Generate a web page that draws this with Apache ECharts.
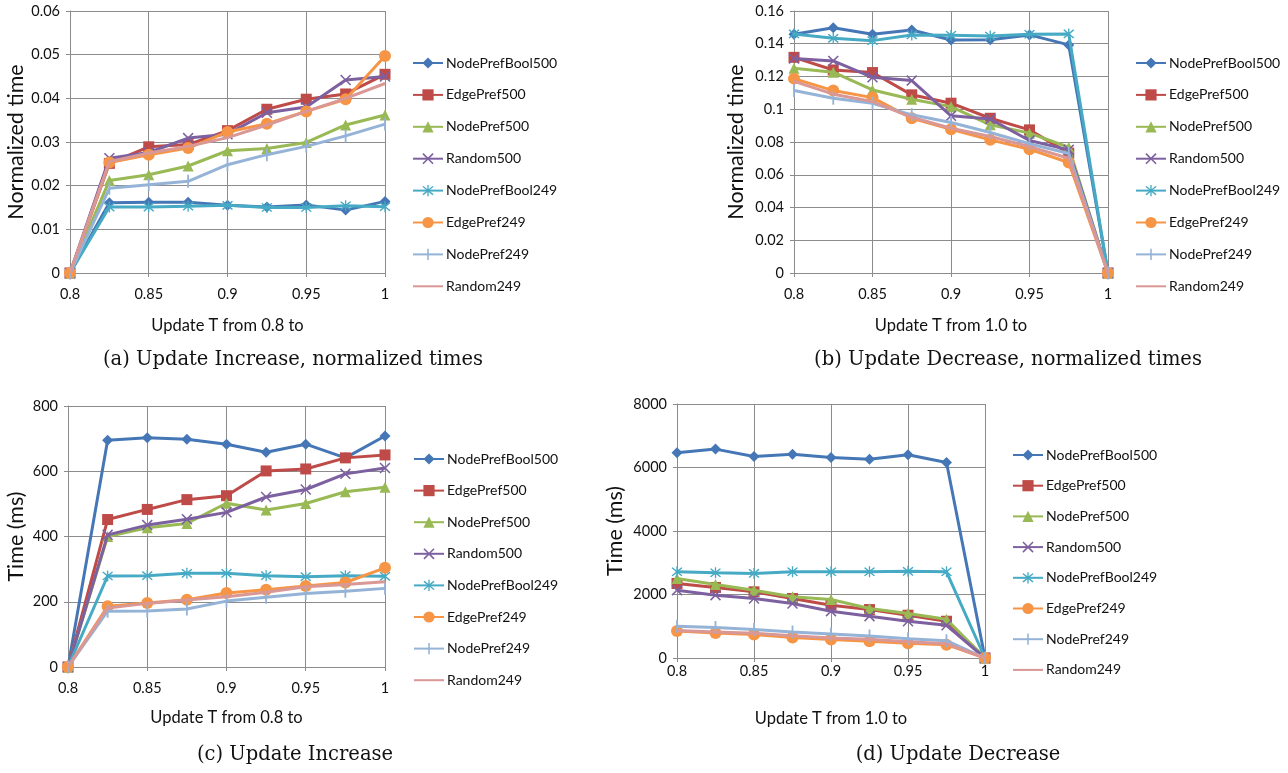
<!DOCTYPE html>
<html><head><meta charset="utf-8">
<script src="https://cdn.jsdelivr.net/npm/echarts@6/dist/echarts.min.js"></script>
<style>html,body{margin:0;padding:0;background:#fff}#c{width:1288px;height:773px}</style>
</head><body><div id="c"></div>
<script>
const xValues = [0.8, 0.825, 0.85, 0.875, 0.9, 0.925, 0.95, 0.975, 1];
const seriesNames = ['NodePrefBool500','EdgePref500','NodePref500','Random500','NodePrefBool249','EdgePref249','NodePref249','Random249'];
// (a) Update Increase, normalized times
const incNorm = [
  [0, 0.0161, 0.0162, 0.0162, 0.0155, 0.0151, 0.0156, 0.0144, 0.0164],
  [0, 0.0251, 0.0289, 0.0294, 0.0326, 0.0375, 0.0398, 0.0410, 0.0455],
  [0, 0.0212, 0.0225, 0.0245, 0.0280, 0.0285, 0.0299, 0.0339, 0.0362],
  [0, 0.0263, 0.0276, 0.0309, 0.0318, 0.0367, 0.0380, 0.0442, 0.0450],
  [0, 0.0151, 0.0151, 0.0153, 0.0155, 0.0150, 0.0150, 0.0154, 0.0152],
  [0, 0.0253, 0.0271, 0.0286, 0.0323, 0.0342, 0.0370, 0.0398, 0.0497],
  [0, 0.0194, 0.0202, 0.0210, 0.0248, 0.0271, 0.0290, 0.0314, 0.0341],
  [0, 0.0255, 0.0275, 0.0290, 0.0310, 0.0339, 0.0370, 0.0400, 0.0434]
];
// (b) Update Decrease, normalized times
const decNorm = [
  [0.1458, 0.1498, 0.1458, 0.1484, 0.1423, 0.1425, 0.1454, 0.1393, 0],
  [0.1317, 0.1240, 0.1224, 0.1088, 0.1037, 0.0945, 0.0874, 0.0732, 0],
  [0.1250, 0.1226, 0.1118, 0.1061, 0.1016, 0.0905, 0.0854, 0.0768, 0],
  [0.1310, 0.1295, 0.1195, 0.1175, 0.0960, 0.0940, 0.0809, 0.0752, 0],
  [0.1460, 0.1433, 0.1419, 0.1454, 0.1452, 0.1447, 0.1458, 0.1460, 0],
  [0.1187, 0.1114, 0.1071, 0.0945, 0.0878, 0.0813, 0.0756, 0.0675, 0],
  [0.1114, 0.1067, 0.1037, 0.0966, 0.0919, 0.0858, 0.0789, 0.0730, 0],
  [0.1170, 0.1092, 0.1047, 0.0951, 0.0884, 0.0834, 0.0772, 0.0701, 0]
];
// (c) Update Increase, ms
const incMs = [
  [0, 695, 703, 698, 683, 658, 683, 641, 708],
  [0, 452, 483, 513, 525, 601, 607, 641, 650],
  [0, 400, 427, 440, 502, 481, 501, 537, 551],
  [0, 405, 435, 453, 474, 521, 544, 592, 610],
  [0, 279, 280, 287, 287, 280, 277, 280, 278],
  [0, 186, 196, 206, 227, 237, 248, 259, 304],
  [0, 171, 172, 178, 202, 214, 225, 232, 241],
  [0, 181, 195, 205, 215, 229, 246, 253, 261]
];
// (d) Update Decrease, ms
const decMs = [
  [6463, 6579, 6347, 6421, 6316, 6263, 6400, 6158, 0],
  [2347, 2221, 2084, 1874, 1663, 1526, 1347, 1158, 0],
  [2505, 2316, 2137, 1926, 1842, 1558, 1400, 1221, 0],
  [2137, 1979, 1874, 1716, 1474, 1316, 1158, 1032, 0],
  [2716, 2684, 2663, 2716, 2716, 2716, 2730, 2716, 0],
  [853, 789, 737, 642, 579, 526, 463, 421, 0],
  [1000, 958, 895, 821, 758, 695, 610, 545, 0],
  [870, 820, 780, 700, 630, 590, 510, 450, 0]
];
const yMax = [0.06, 0.16, 800, 8000];
const yStep = [0.01, 0.02, 200, 2000];
const yTitles = ['Normalized time', 'Normalized time', 'Time (ms)', 'Time (ms)'];
const xTitles = ['Update T from 0.8 to', 'Update T from 1.0 to', 'Update T from 0.8 to', 'Update T from 1.0 to'];
const captions = ['(a) Update Increase, normalized times', '(b) Update Decrease, normalized times', '(c) Update Increase', '(d) Update Decrease'];

const colors = ['#4577B6','#BE4B48','#98B954','#7D60A0','#46AAC5','#F69546','#95B3D7','#D99795'];
const X_PATH = 'path://M0,1L1,0L5,4L9,0L10,1L6,5L10,9L9,10L5,6L1,10L0,9L4,5Z';
const AST_PATH = 'path://M0,1L1,0L5,4L9,0L10,1L6,5L10,9L9,10L5,6L1,10L0,9L4,5ZM4.4,-1L5.6,-1L5.6,11L4.4,11Z';
const BAR_PATH = 'path://M4.3,0L5.7,0L5.7,10L4.3,10ZM0,5L0.01,5L0,5.01ZM10,5L9.99,5L10,5.01Z';
const symbols = ['diamond','rect','triangle',X_PATH,AST_PATH,'circle',BAR_PATH,'none'];
const symSizes = [11, 11, 11, 11, 11, 12, 13, 0];

const panels = [incNorm, decNorm, incMs, decMs];
const grids = [
  {left: 70, top: 11, width: 315, height: 262},
  {left: 794, top: 11, width: 314, height: 262},
  {left: 68, top: 406, width: 317, height: 261},
  {left: 677, top: 404, width: 308, height: 254}
];
const yNameGaps = [43, 47, 41, 51];
const xNameGaps = [44, 44, 42, 52];
const xLabelMargins = [14, 14, 14, 6];
const legendPos = [
  {left: 412, top: 56, itemGap: 17.9},
  {left: 1135, top: 56, itemGap: 17.9},
  {left: 413, top: 452, itemGap: 17.6},
  {left: 1012, top: 448, itemGap: 16.7}
];
const captionPos = [[293, 360], [1008, 360], [295, 755], [958, 755]];

const FONT = 'Lato';
const gridColor = '#8c8c8c';
const option = {
  animation: false,
  backgroundColor: '#fff',
  grid: grids.map(g => Object.assign({containLabel: false}, g)),
  xAxis: grids.map((g, p) => ({
    type: 'value', gridIndex: p, min: 0.8, max: 1, interval: 0.05,
    name: xTitles[p], nameLocation: 'middle', nameGap: xNameGaps[p],
    nameTextStyle: {fontFamily: FONT, fontSize: 16.5, color: '#111'},
    axisLine: {show: true, lineStyle: {color: gridColor, width: 1}},
    axisTick: {show: true, length: 4, lineStyle: {color: gridColor}},
    axisLabel: {fontFamily: FONT, fontSize: 14.5, color: '#111', margin: xLabelMargins[p]},
    splitLine: {show: true, lineStyle: {color: gridColor, width: 1}}
  })),
  yAxis: grids.map((g, p) => ({
    type: 'value', gridIndex: p, min: 0, max: yMax[p], interval: yStep[p],
    name: yTitles[p], nameLocation: 'middle', nameGap: yNameGaps[p], nameRotate: 90,
    nameTextStyle: {fontFamily: FONT, fontSize: 21.5, color: '#111'},
    axisLine: {show: true, lineStyle: {color: gridColor, width: 1}},
    axisTick: {show: true, length: 4, lineStyle: {color: gridColor}},
    axisLabel: {fontFamily: FONT, fontSize: 14.5, color: '#111', margin: 10, formatter: v => String(+v.toFixed(4))},
    splitLine: {show: true, lineStyle: {color: gridColor, width: 1}}
  })),
  legend: legendPos.map(l => ({
    orient: 'vertical', left: l.left, top: l.top, itemGap: l.itemGap,
    itemWidth: 30, itemHeight: 14, padding: 0,
    data: seriesNames.map(n => n === 'Random249' ? {name: n, itemStyle: {opacity: 0}} : n),
    textStyle: {fontFamily: FONT, fontSize: 14, color: '#111', lineHeight: 14, padding: [0, 0, 0, -2]}
  })),
  graphic: captions.map((t, p) => ({
    type: 'text', x: captionPos[p][0], y: captionPos[p][1],
    style: {text: t, font: '19.5px "DejaVu Serif"', fill: '#111', textAlign: 'center', textVerticalAlign: 'middle'}
  })),
  series: []
};
panels.forEach((vals, p) => {
  seriesNames.forEach((name, i) => {
    option.series.push({
      type: 'line', name: name, xAxisIndex: p, yAxisIndex: p,
      data: xValues.map((x, j) => [x, vals[i][j]]),
      symbol: symbols[i], symbolSize: symSizes[i], showSymbol: symbols[i] !== 'none',
      color: colors[i],
      lineStyle: {width: 3, color: colors[i]},
      itemStyle: {color: colors[i], borderWidth: 0},
      z: 2 + i * 0.01
    });
  });
});
const chart = echarts.init(document.getElementById('c'), null, {renderer: 'canvas'});
chart.setOption(option);
</script></body></html>
